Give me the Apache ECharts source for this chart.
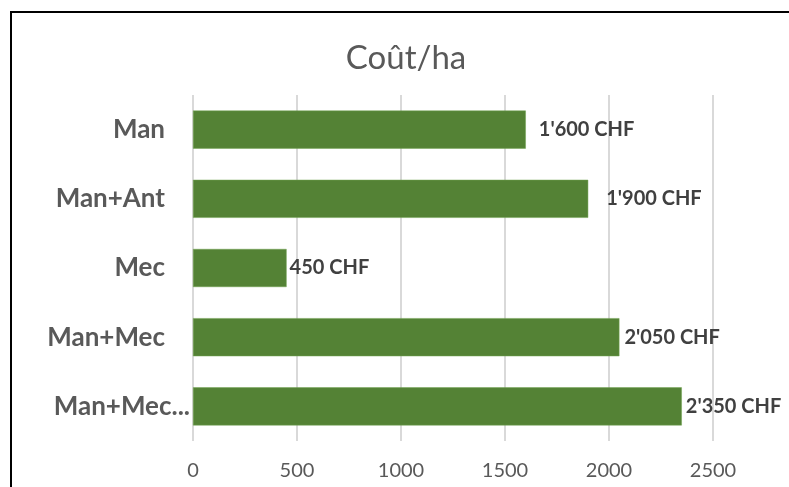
<!DOCTYPE html>
<html>
<head>
<meta charset="utf-8">
<script src="https://cdn.jsdelivr.net/npm/echarts@6/dist/echarts.min.js"></script>
<style>html,body{margin:0;padding:0;background:#fff}#c{width:789px;height:487px}</style>
</head>
<body>
<div id="c"></div>
<script>
var titleText = 'Coût/ha';
var categories = ['Man', 'Man+Ant', 'Mec', 'Man+Mec', 'Man+Mec...'];
var costs = [1600, 1900, 450, 2050, 2350];
var xTicks = [0, 500, 1000, 1500, 2000, 2500];
var labelGaps = [13, 18, 3, 5, 4];

function fmt(v) {
  var s = String(v);
  if (v >= 1000) s = s.slice(0, s.length - 3) + "'" + s.slice(s.length - 3);
  return s + ' CHF';
}

var chart = echarts.init(document.getElementById('c'), null, {renderer: 'canvas'});
chart.setOption({
  animation: false,
  backgroundColor: '#ffffff',
  title: {
    text: titleText, left: 401, top: 37, textAlign: 'center',
    textStyle: {fontFamily: 'Lato', fontWeight: 'normal', fontSize: 33, color: '#595959'}
  },
  graphic: [{
    type: 'rect', shape: {x: 11, y: 12, width: 820, height: 520},
    style: {fill: 'none', stroke: '#000', lineWidth: 2}, z: 100
  }],
  grid: {left: 193, right: 76, top: 95, bottom: 46, containLabel: false},
  xAxis: {
    type: 'value', min: xTicks[0], max: xTicks[xTicks.length - 1], interval: 500,
    axisLine: {show: false}, axisTick: {show: false},
    splitLine: {show: true, lineStyle: {color: '#d9d9d9', width: 2}},
    axisLabel: {fontFamily: 'Lato', fontSize: 20, color: '#595959', margin: 20,
      formatter: function (v) { return String(v); }}
  },
  yAxis: {
    type: 'category', inverse: true,
    data: categories.map(function (c, i) {
      return i === categories.length - 1
        ? {value: c, textStyle: {padding: [0, -25, 0, 0]}}
        : c;
    }),
    axisLine: {show: false}, axisTick: {show: false},
    axisLabel: {fontFamily: 'Lato', fontWeight: 'bold', fontSize: 26, color: '#595959', margin: 28}
  },
  series: [{
    type: 'bar', barCategoryGap: '45%',
    itemStyle: {color: '#548235', borderColor: '#70a350', borderWidth: 0.5},
    data: costs.map(function (v, i) {
      return {value: v, label: {distance: labelGaps[i]}};
    }),
    label: {
      show: true, position: 'right',
      fontFamily: 'Lato', fontWeight: 'bold', fontSize: 20, color: '#404040',
      formatter: function (p) { return fmt(p.value); }
    }
  }]
});
</script>
</body>
</html>
